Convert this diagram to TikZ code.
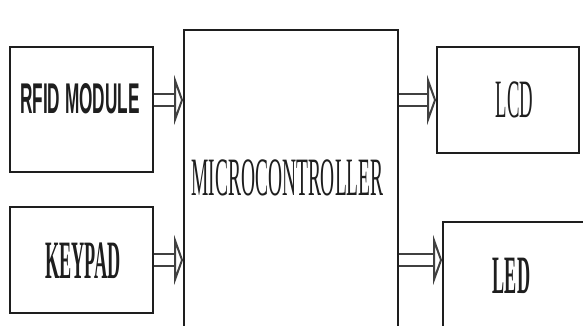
\documentclass[tikz,border=0pt]{standalone}
\usepackage{fontspec}
\setmainfont{Liberation Serif}
\newfontfamily\rfidfont{Liberation Sans}
\usetikzlibrary{arrows.meta}
\definecolor{ink}{RGB}{30,30,30}

\begin{document}
\begin{tikzpicture}[x=1pt,y=1pt,
  blk/.style={draw=ink,line width=1.8pt,inner sep=0pt,fill=white},
  lbl/.style={inner sep=0pt,text=ink,font=\fontsize{54}{54}\selectfont,xscale=#1},
  lbl/.default=0.36,
  bus/.style={draw=ink!85,line width=2.4pt,double=white,double distance=10pt,
    -{Triangle[open,length=9pt,width=50pt,line width=2pt]}}]
  \useasboundingbox (0,0) rectangle (583,326);
  \clip (0,0) rectangle (583,326);
  \fill[white] (0,0) rectangle (583,326);
  \node[blk,minimum width=143pt,minimum height=125pt] (rfid) at (81.5,216.5) {};
  \node[blk,minimum width=143pt,minimum height=106pt] (keypad) at (81.5,66) {};
  \node[blk,minimum width=214pt,minimum height=310pt] (mc) at (291,141) {};
  \node[blk,minimum width=142pt,minimum height=106pt] (lcd) at (508,226) {};
  \node[blk,minimum width=157pt,minimum height=118pt] (led) at (521.5,45) {};
  \node[lbl=0.40,font=\rfidfont\bfseries\fontsize{43}{43}\selectfont] (rfidtxt) at (80,227.5) {RFID MODULE};
  \node[lbl=0.337,font=\bfseries\fontsize{54}{54}\selectfont] (keypadtxt) at (83,65) {KEYPAD};
  \node[lbl=0.36] (mctxt) at (287.5,148.5) {MICROCONTROLLER};
  \node[lbl=0.347] (lcdtxt) at (514.5,226) {LCD};
  \node[lbl=0.337,font=\bfseries\fontsize{54}{54}\selectfont] (ledtxt) at (511.5,50) {LED};
  \draw[bus] (rfid.east |- lcd.west) -- (mc.west |- lcd.west);
  \draw[bus] (keypad.east) -- (mc.west |- keypad.east);
  \draw[bus] (mc.east |- lcd.west) -- (lcd.west);
  \draw[bus] (mc.east |- keypad.east) -- (led.west |- keypad.east);
\end{tikzpicture}
\end{document}
